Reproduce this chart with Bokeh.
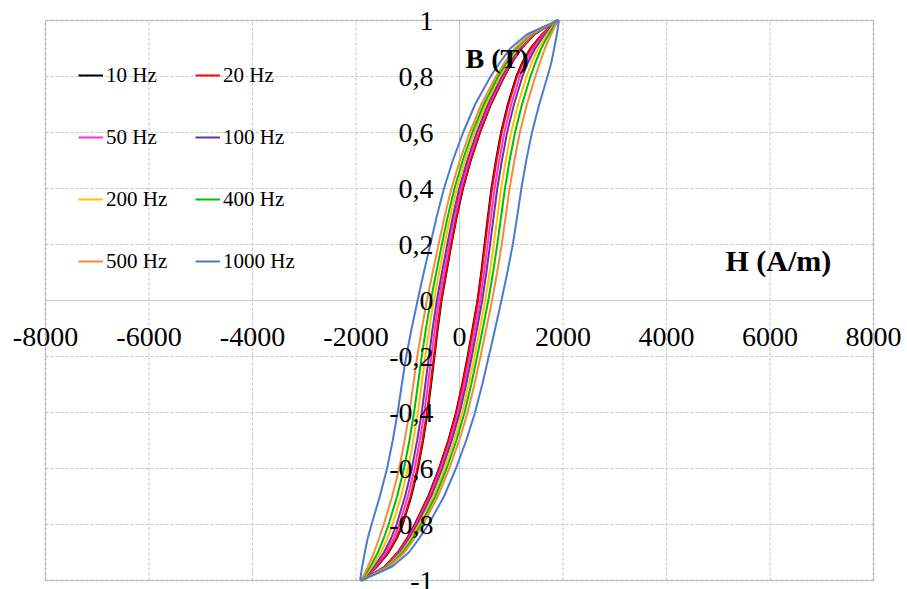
from bokeh.plotting import figure
from bokeh.models import (ColumnDataSource, LabelSet, Label, BoxAnnotation,
                          Legend, LegendItem, Range1d)
from bokeh.embed import file_html
from bokeh.resources import INLINE

# ---- data ----
freq_labels = ["10 Hz", "20 Hz", "50 Hz", "100 Hz", "200 Hz", "400 Hz", "500 Hz", "1000 Hz"]

# flux density B (T) along the rising branch and along the falling branch
b_up = [-1, -0.98, -0.95, -0.9, -0.85, -0.8, -0.7, -0.6, -0.5, -0.4, -0.3, -0.2, -0.1, 0,
        0.1, 0.2, 0.3, 0.4, 0.5, 0.6, 0.7, 0.8, 0.85, 0.9, 0.95, 0.98, 1]
b_down = [1, 0.98, 0.95, 0.9, 0.85, 0.8, 0.7, 0.6, 0.5, 0.4, 0.3, 0.2, 0.1, 0,
          -0.1, -0.2, -0.3, -0.4, -0.5, -0.6, -0.7, -0.8, -0.85, -0.9, -0.95, -0.98, -1]

# field strength H (A/m) on each branch
h_up_10 = [-1878, -1703, -1443, -1194, -1015, -865, -606, -396, -217, -67, 52, 157, 253, 348,
           420, 484, 549, 617, 704, 803, 933, 1098, 1214, 1371, 1594, 1757, 1899]
h_down_10 = [1878, 1703, 1443, 1194, 1015, 865, 606, 396, 217, 67, -52, -157, -253, -348,
             -420, -484, -549, -617, -704, -803, -933, -1098, -1214, -1371, -1594, -1757, -1899]
h_up_20 = [-1880, -1700, -1440, -1190, -1010, -860, -600, -390, -210, -60, 60, 165, 262, 357,
           430, 495, 560, 628, 715, 815, 945, 1110, 1225, 1380, 1600, 1760, 1900]
h_down_20 = [1880, 1700, 1440, 1190, 1010, 860, 600, 390, 210, 60, -60, -165, -262, -357,
             -430, -495, -560, -628, -715, -815, -945, -1110, -1225, -1380, -1600, -1760, -1900]
h_up_50 = [-1884, -1695, -1427, -1171, -989, -837, -573, -361, -179, -28, 94, 201, 300, 398,
           475, 543, 610, 679, 767, 868, 999, 1163, 1275, 1421, 1625, 1773, 1902]
h_down_50 = [1884, 1695, 1427, 1171, 989, 837, 573, 361, 179, 28, -94, -201, -300, -398,
             -475, -543, -610, -679, -767, -868, -999, -1163, -1275, -1421, -1625, -1773, -1902]
h_up_100 = [-1887, -1691, -1415, -1152, -969, -813, -546, -332, -149, 5, 128, 237, 339, 439,
            519, 591, 660, 730, 819, 920, 1052, 1216, 1324, 1461, 1650, 1786, 1904]
h_down_100 = [1887, 1691, 1415, 1152, 969, 813, 546, 332, 149, -5, -128, -237, -339, -439,
              -519, -591, -660, -730, -819, -920, -1052, -1216, -1324, -1461, -1650, -1786, -1904]
h_up_200 = [-1892, -1685, -1397, -1125, -939, -779, -507, -291, -105, 52, 178, 289, 395, 497,
            584, 661, 732, 804, 893, 996, 1130, 1293, 1396, 1520, 1687, 1805, 1906]
h_down_200 = [1892, 1685, 1397, 1125, 939, 779, 507, 291, 105, -52, -178, -289, -395, -497,
              -584, -661, -732, -804, -893, -996, -1130, -1293, -1396, -1520, -1687, -1805, -1906]
h_up_400 = [-1898, -1678, -1378, -1098, -909, -746, -468, -249, -60, 98, 227, 341, 450, 556,
            648, 730, 804, 878, 968, 1072, 1207, 1370, 1467, 1578, 1723, 1824, 1909]
h_down_400 = [1898, 1678, 1378, 1098, 909, 746, 468, 249, 60, -98, -227, -341, -450, -556,
              -648, -730, -804, -878, -968, -1072, -1207, -1370, -1467, -1578, -1723, -1824, -1909]
h_up_500 = [-1904, -1670, -1356, -1064, -872, -704, -420, -198, -6, 156, 288, 405, 519, 629,
            727, 816, 893, 968, 1060, 1166, 1302, 1464, 1555, 1650, 1768, 1847, 1912]
h_down_500 = [1904, 1670, 1356, 1064, 872, 704, 420, 198, 6, -156, -288, -405, -519, -629,
              -727, -816, -893, -968, -1060, -1166, -1302, -1464, -1555, -1650, -1768, -1847, -1912]
h_up_1000 = [-1920, -1650, -1300, -980, -780, -600, -300, -70, 130, 300, 440, 565, 690, 810,
             925, 1030, 1115, 1195, 1290, 1400, 1540, 1700, 1775, 1830, 1880, 1905, 1920]
h_down_1000 = [1920, 1650, 1300, 980, 780, 600, 300, 70, -130, -300, -440, -565, -690, -810,
               -925, -1030, -1115, -1195, -1290, -1400, -1540, -1700, -1775, -1830, -1880, -1905, -1920]

x_ticks = [-8000, -6000, -4000, -2000, 0, 2000, 4000, 6000, 8000]
x_tick_labels = ["-8000", "-6000", "-4000", "-2000", "0", "2000", "4000", "6000", "8000"]
y_ticks = [-1, -0.8, -0.6, -0.4, -0.2, 0, 0.2, 0.4, 0.6, 0.8, 1]
y_tick_labels = ["-1", "-0,8", "-0,6", "-0,4", "-0,2", "0", "0,2", "0,4", "0,6", "0,8", "1"]

x_title = "H (A/m)"
y_title = "B (T)"

# ---- styling / layout ----
colors = ["#000000", "#FF0000", "#FF33CC", "#7030A0", "#FFC000", "#00C000", "#F58A3A", "#4A7BD0"]
FONT = "Liberation Serif"
W, H = 907, 589
PL, PR, PT, PB = 45, 34, 20, 9          # plot box margins in px
XMIN, XMAX, YMIN, YMAX = x_ticks[0], x_ticks[-1], y_ticks[0], y_ticks[-1]
ux = (XMAX - XMIN) / (W - PL - PR)       # data units per px
uy = (YMAX - YMIN) / (H - PT - PB)

up_branches = [h_up_10, h_up_20, h_up_50, h_up_100, h_up_200, h_up_400, h_up_500, h_up_1000]
down_branches = [h_down_10, h_down_20, h_down_50, h_down_100, h_down_200, h_down_400, h_down_500, h_down_1000]

p = figure(width=W, height=H, output_backend="svg", toolbar_location=None,
           x_range=Range1d(XMIN - PL * ux, XMAX + PR * ux),
           y_range=Range1d(YMIN - PB * uy, YMAX + PT * uy),
           x_axis_location=None, y_axis_location=None,
           min_border=0, min_border_left=0, min_border_right=0, min_border_top=0, min_border_bottom=0,
           background_fill_color="white", border_fill_color="white")
p.outline_line_color = None
p.xgrid.visible = False
p.ygrid.visible = False

# dashed gridlines inside the plot box
p.segment(x0=x_ticks, y0=[YMIN] * len(x_ticks), x1=x_ticks, y1=[YMAX] * len(x_ticks),
          line_color="#C4C4C4", line_dash="3 2", line_width=1)
p.segment(x0=[XMIN] * len(y_ticks), y0=y_ticks, x1=[XMAX] * len(y_ticks), y1=y_ticks,
          line_color="#C4C4C4", line_dash="3 2", line_width=1)
# axis lines through the origin
p.segment(x0=[XMIN, 0], y0=[0, YMIN], x1=[XMAX, 0], y1=[0, YMAX],
          line_color="#C8C8C8", line_width=1)

renderers = []
for up, down, col in zip(up_branches, down_branches, colors):
    src = ColumnDataSource(data=dict(h=up + down, b=b_up + b_down))
    r = p.line("h", "b", source=src, line_color=col, line_width=2)
    renderers.append(r)

# plot box border
p.add_layout(BoxAnnotation(left=XMIN, right=XMAX, bottom=YMIN, top=YMAX,
                           fill_alpha=0, line_color="#7F7F7F", line_width=1.5))

# tick labels
xsrc = ColumnDataSource(data=dict(x=x_ticks, text=x_tick_labels))
p.add_layout(LabelSet(x="x", y=-36 * uy, text="text", source=xsrc, text_align="center",
                      text_baseline="middle", text_font=FONT, text_font_size="28px",
                      text_color="black"))
ysrc = ColumnDataSource(data=dict(y=y_ticks, text=y_tick_labels))
p.add_layout(LabelSet(x=-26 * ux, y="y", text="text", source=ysrc, text_align="right",
                      text_baseline="middle", text_font=FONT, text_font_size="28px",
                      text_color="black"))

# axis titles
p.add_layout(Label(x=6 * ux, y=YMAX - 38 * uy, text=y_title, text_align="left",
                   text_baseline="middle", text_font=FONT, text_font_size="28px",
                   text_font_style="bold", text_color="black"))
p.add_layout(Label(x=266 * ux, y=40 * uy, text=x_title, text_align="left",
                   text_baseline="middle", text_font=FONT, text_font_size="30px",
                   text_font_style="bold", text_color="black"))

legend = Legend(items=[LegendItem(label=l, renderers=[r]) for l, r in zip(freq_labels, renderers)],
                orientation="horizontal", ncols=2, location=(78, 297),
                glyph_width=25, glyph_height=62, label_height=62, label_width=89,
                label_standoff=3, spacing=0, padding=0, margin=0,
                background_fill_alpha=0, border_line_alpha=0,
                label_text_font=FONT, label_text_font_size="21px", label_text_color="black")
p.add_layout(legend)

open("out.html", "w").write(file_html(p, INLINE))
